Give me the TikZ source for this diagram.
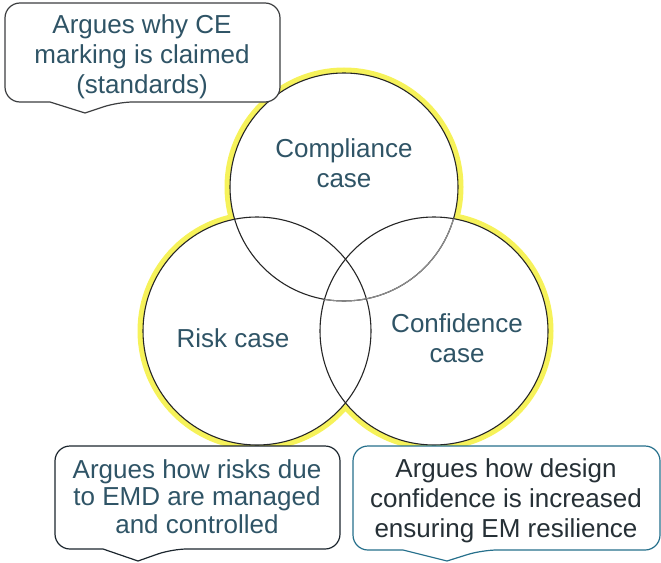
\documentclass[tikz,border=0pt]{standalone}
\usepackage{fontspec}
\setmainfont{Liberation Sans}
\definecolor{txtslate}{RGB}{47,84,102}
\definecolor{txtdark}{RGB}{38,48,54}
\definecolor{hl}{RGB}{246,242,90}
\definecolor{bordergray}{RGB}{60,62,64}
\definecolor{borderdark}{RGB}{28,38,46}
\definecolor{borderteal}{RGB}{38,112,140}
\definecolor{arcgray}{RGB}{140,140,140}
\begin{document}
\begin{tikzpicture}[x=1pt,y=-1pt,
  lbl/.style={font=\fontsize{26}{30}\selectfont, align=center, inner sep=0pt, anchor=base},
  ring/.style={circle, minimum size=228pt, inner sep=0pt},
  glow/.style={draw=hl, line width=11pt},
  outline/.style={draw=black!85, line width=1.1pt},
  callout/.style={fill=white, line width=1.2pt}
]
\useasboundingbox (0,0) rectangle (661,562);

% circle centres
\coordinate (pC) at (344,187);
\coordinate (pR) at (257,331);
\coordinate (pF) at (434,331);

% yellow highlight
\foreach \p in {pC,pR,pF} \draw[glow] (\p) circle (114);
\foreach \p in {pC,pR,pF} \fill[white] (\p) circle (114);

% circles
\node[ring, outline] (comp) at (pC) {};
\node[ring, outline] (risk) at (pR) {};
\node[ring, outline] (conf) at (pF) {};
\begin{scope}
  \clip (pF) circle (114);
  \draw[arcgray, line width=1.1pt] (pC) circle (114);
\end{scope}

% callout shapes
\def\topbox{(50,102) [rounded corners=15pt] -- (5,102) -- (5,3) -- (280,3) -- (280,102) -- (118,102) [sharp corners] -- (85,113) -- cycle}
\def\leftbox{(103,549) [rounded corners=15pt] -- (55,549) -- (55,446) -- (340,446) -- (340,549) -- (172,549) [sharp corners] -- (138,561) -- cycle}
\def\rightbox{(403,550) [rounded corners=15pt] -- (353,550) -- (353,446) -- (660,446) -- (660,550) -- (482,550) [sharp corners] -- (447,561) -- cycle}

\fill[white] \topbox;
\fill[white] \leftbox;
\fill[white] \rightbox;

\begin{scope}
  \clip \topbox;
  \draw[glow] (pC) circle (114);
  \fill[white] (pC) circle (114);
\end{scope}
\begin{scope}
  \clip \leftbox;
  \draw[glow] (pR) circle (114);
  \fill[white] (pR) circle (114);
\end{scope}
\begin{scope}
  \clip \rightbox;
  \draw[glow] (pF) circle (114);
  \fill[white] (pF) circle (114);
\end{scope}

\draw[callout, draw=bordergray] \topbox;
\draw[callout, draw=borderdark] \leftbox;
\draw[callout, draw=borderteal] \rightbox;

% texts (anchor = baseline of the last line)
\node[lbl, text=txtslate] (tcomp) at (344,187) {Compliance\\case};
\node[lbl, text=txtslate] (trisk) at (233,347) {Risk case};
\node[lbl, text=txtslate] (tconf) at (457,362) {Confidence\\case};
\node[lbl, text=txtslate] (ttop) at (142,93) {Argues why CE\\marking is claimed\\(standards)};
\node[lbl, text=txtslate, font=\fontsize{26}{27.5}\selectfont] (tleft) at (197,533) {Argues how risks due\\to EMD are managed\\and controlled};
\node[lbl, text=txtdark] (tright) at (506,537) {Argues how design\\confidence is increased\\ensuring EM resilience};
\end{tikzpicture}
\end{document}
